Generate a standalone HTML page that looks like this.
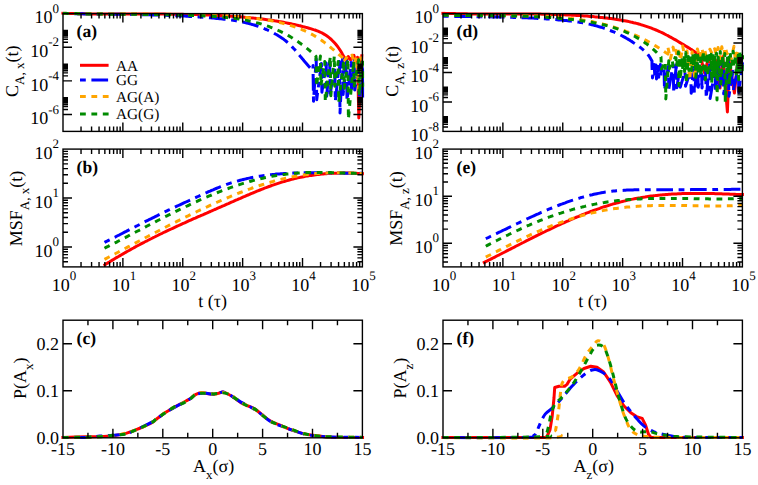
<!DOCTYPE html><html><head><meta charset="utf-8"><style>html,body{margin:0;padding:0;background:#fff;overflow:hidden;}svg{display:block}</style></head><body><svg width="758" height="485" viewBox="0 0 758 485" font-family='"Liberation Serif", serif' text-rendering="geometricPrecision">
<rect width="758" height="485" fill="#fff"/>
<g clip-path="url(#clipa)">
<path d="M62.9 13.2L64.4 13.3L65.9 13.3L67.4 13.4L68.9 13.4L70.4 13.5L71.9 13.5L73.4 13.5L74.9 13.6L76.4 13.6L77.9 13.7L79.4 13.7L80.9 13.7L82.4 13.8L83.9 13.8L85.4 13.8L86.9 13.8L88.4 13.9L89.9 13.9L91.4 13.9L92.9 13.9L94.4 13.9L95.9 13.9L97.4 14L98.9 14L100.4 14L101.9 14L103.4 14L104.9 14L106.4 14L107.9 14L109.4 14L110.9 14.1L112.4 14.1L113.9 14.1L115.4 14.1L116.9 14.1L118.4 14.1L119.9 14.1L121.4 14.1L122.9 14.1L124.4 14.1L125.9 14.1L127.4 14.1L128.9 14.1L130.4 14.1L131.9 14.1L133.4 14.1L134.9 14.1L136.4 14.1L137.9 14.1L139.4 14.1L140.9 14.1L142.4 14.1L143.9 14.1L145.4 14.1L146.9 14.1L148.4 14.1L149.9 14.1L151.4 14.1L152.9 14.1L154.4 14.1L155.9 14.1L157.4 14.1L158.9 14.1L160.4 14.1L161.9 14.1L163.4 14.1L164.9 14.1L166.4 14.2L167.9 14.2L169.4 14.2L170.9 14.2L172.4 14.2L173.9 14.2L175.4 14.2L176.9 14.3L178.4 14.3L179.9 14.3L181.4 14.3L182.9 14.3L184.4 14.4L185.9 14.4L187.4 14.4L188.9 14.5L190.4 14.5L191.9 14.5L193.4 14.6L194.9 14.6L196.4 14.6L197.9 14.7L199.4 14.7L200.9 14.8L202.5 14.8L204 14.9L205.5 14.9L207 15L208.5 15L210 15.1L211.5 15.2L213 15.2L214.5 15.3L216 15.4L217.5 15.4L219 15.5L220.5 15.6L222 15.7L223.5 15.7L225 15.8L226.5 15.9L228 16L229.5 16.1L231 16.2L232.5 16.3L234 16.4L235.5 16.5L237 16.6L238.5 16.7L240 16.8L241.5 17L243 17.1L244.5 17.2L246 17.4L247.5 17.5L249 17.6L250.5 17.8L252 17.9L253.5 18.1L255 18.2L256.5 18.4L258 18.6L259.5 18.7L261 18.9L262.5 19.1L264 19.3L265.5 19.5L267 19.7L268.5 19.9L270 20.1L271.5 20.3L273 20.5L274.5 20.8L276 21L277.5 21.2L279 21.5L280.5 21.7L282 22L283.5 22.3L285 22.6L286.5 22.9L288 23.2L289.5 23.5L291 23.8L292.5 24.1L294 24.4L295.5 24.8L297 25.1L298.5 25.5L300 25.8L301.5 26.2L303 26.6L304.5 27L306 27.4L307.5 27.8L309 28.2L310.5 28.6L312 29.1L313.5 29.6L315 30L316.5 30.6L318 31.2L319.5 31.8L321 32.5L322.5 33.2L324 34.1L325.5 35L327 36L328.5 37.1L330 38.3L331.5 39.7L333 41.2L334.5 42.8L336 44.5L337.5 46.4L339 48.5L340.5 50.8L342 53.3L343 55.4L346.4 60.3L348.3 56.5L350.6 60L353.9 55.3L355.2 60.5L357.5 57.3L358.8 118L361.8 55.7" fill="none" stroke="#ff0000" stroke-width="3" stroke-linecap="square" stroke-linejoin="round"/>
<path d="M62.9 13.5L64.4 13.5L65.9 13.5L67.4 13.6L68.9 13.6L70.4 13.6L71.9 13.7L73.4 13.7L75 13.7L76.5 13.7L78 13.8L79.5 13.8L81 13.8L82.5 13.8L84 13.9L85.5 13.9L87 13.9L88.5 13.9L90 14L91.5 14L93 14L94.5 14L96 14L97.6 14.1L99.1 14.1L100.6 14.1L102.1 14.1L103.6 14.1L105.1 14.1L106.6 14.2L108.1 14.2L109.6 14.2L111.1 14.2L112.6 14.2L114.1 14.2L115.6 14.3L117.1 14.3L118.6 14.3L120.2 14.3L121.7 14.3L123.2 14.4L124.7 14.4L126.2 14.4L127.7 14.4L129.2 14.4L130.7 14.5L132.2 14.5L133.7 14.5L135.2 14.5L136.7 14.6L138.2 14.6L139.7 14.6L141.2 14.6L142.8 14.7L144.3 14.7L145.8 14.7L147.3 14.8L148.8 14.8L150.3 14.8L151.8 14.9L153.3 14.9L154.8 15L156.3 15L157.8 15L159.3 15.1L160.8 15.1L162.3 15.2L163.8 15.2L165.4 15.3L166.9 15.3L168.4 15.4L169.9 15.4L171.4 15.5L172.9 15.6L174.4 15.6L175.9 15.7L177.4 15.8L178.9 15.8L180.4 15.9L181.9 16L183.4 16L184.9 16.1L186.4 16.2L187.9 16.3L189.5 16.4L191 16.5L192.5 16.5L194 16.6L195.5 16.7L197 16.8L198.5 16.9L200 17L201.5 17.1L203 17.3L204.5 17.4L206 17.5L207.5 17.6L209 17.7L210.5 17.8L212.1 18L213.6 18.1L215.1 18.2L216.6 18.4L218.1 18.5L219.6 18.7L221.1 18.8L222.6 19L224.1 19.2L225.6 19.3L227.1 19.5L228.6 19.7L230.1 19.9L231.6 20.1L233.1 20.3L234.7 20.6L236.2 20.8L237.7 21.1L239.2 21.4L240.7 21.7L242.2 22L243.7 22.3L245.2 22.6L246.7 23L248.2 23.3L249.7 23.7L251.2 24.2L252.7 24.6L254.2 25L255.7 25.5L257.3 26L258.8 26.5L260.3 27.1L261.8 27.6L263.3 28.2L264.8 28.9L266.3 29.5L267.8 30.2L269.3 30.9L270.8 31.6L272.3 32.4L273.8 33.1L275.3 34L276.8 34.8L278.3 35.7L279.9 36.7L281.4 37.7L282.9 38.7L284.4 39.9L285.9 41L287.4 42.3L288.9 43.6L290.4 45.1L291.9 46.6L293.4 48.2L294.9 49.8L296.4 51.6L297.9 53.4L299.4 55.2L300.9 57.1L302.5 58.9L304 60.8L305.5 62.6L307 64.3L308.5 66L310 67.6L311.5 69L313 70.3L313 65.6L313.5 101.3L316.2 58.7L316.7 99.7L321.4 63.4L321.9 92.3L326.2 62.9L326.7 96.1L329.7 61.4L330.2 93.5L334.8 66L335.3 101.3L339.5 61.6L340 113L342.6 58.2L343.1 94.5L346.5 61L347 100.5L351.1 62.5L351.6 91.3L354.2 60.6L354.7 89.9L358.7 66L359.2 97.4L362.3 65.1L362.8 99.2L362.5 65.3" fill="none" stroke="#0000ff" stroke-width="3" stroke-dasharray="5.8 5.6 16.7 5.6" stroke-linejoin="round"/>
<path d="M62.9 13.4L64.4 13.4L65.9 13.5L67.4 13.5L68.9 13.5L70.4 13.5L71.9 13.6L73.4 13.6L74.9 13.6L76.4 13.6L77.9 13.6L79.4 13.7L80.9 13.7L82.4 13.7L83.9 13.7L85.4 13.7L86.9 13.7L88.4 13.8L89.9 13.8L91.4 13.8L92.9 13.8L94.4 13.8L95.9 13.8L97.4 13.8L98.9 13.8L100.4 13.8L101.9 13.9L103.4 13.9L104.9 13.9L106.4 13.9L107.9 13.9L109.4 13.9L110.9 13.9L112.4 13.9L113.9 13.9L115.4 13.9L116.9 13.9L118.4 13.9L119.9 13.9L121.4 13.9L122.9 13.9L124.4 13.9L125.9 14L127.4 14L128.9 14L130.4 14L131.9 14L133.4 14L134.9 14L136.4 14L137.9 14L139.4 14L140.9 14L142.4 14L143.9 14L145.4 14L146.9 14.1L148.4 14.1L149.9 14.1L151.4 14.1L152.9 14.1L154.4 14.1L155.9 14.1L157.4 14.1L158.9 14.2L160.4 14.2L161.9 14.2L163.4 14.2L164.9 14.2L166.4 14.2L167.9 14.3L169.4 14.3L170.9 14.3L172.4 14.3L173.9 14.3L175.4 14.4L176.9 14.4L178.4 14.4L179.9 14.5L181.4 14.5L182.9 14.5L184.4 14.6L185.9 14.6L187.4 14.6L188.9 14.7L190.4 14.7L191.9 14.7L193.4 14.8L194.9 14.8L196.4 14.9L197.9 14.9L199.4 15L200.9 15L202.5 15.1L204 15.1L205.5 15.2L207 15.2L208.5 15.3L210 15.3L211.5 15.4L213 15.5L214.5 15.5L216 15.6L217.5 15.7L219 15.7L220.5 15.8L222 15.9L223.5 16L225 16L226.5 16.1L228 16.2L229.5 16.3L231 16.4L232.5 16.5L234 16.6L235.5 16.7L237 16.8L238.5 16.9L240 17L241.5 17.1L243 17.2L244.5 17.3L246 17.5L247.5 17.6L249 17.7L250.5 17.9L252 18L253.5 18.2L255 18.4L256.5 18.5L258 18.7L259.5 18.9L261 19.1L262.5 19.3L264 19.5L265.5 19.8L267 20L268.5 20.3L270 20.5L271.5 20.8L273 21.1L274.5 21.4L276 21.7L277.5 22.1L279 22.4L280.5 22.8L282 23.1L283.5 23.5L285 23.9L286.5 24.3L288 24.8L289.5 25.2L291 25.7L292.5 26.2L294 26.7L295.5 27.2L297 27.7L298.5 28.3L300 28.9L301.5 29.4L303 30.1L304.5 30.7L306 31.4L307.5 32.1L309 32.8L310.5 33.6L312 34.4L313.5 35.2L315 36.1L316.5 37L318 37.9L319.5 38.9L321 39.9L322.5 41L324 42.1L325.5 43.2L327 44.4L328.5 45.6L330 46.8L331.5 48.1L333 49.3L334.5 50.6L336 51.9L337.5 53.2L339 54.6L340.5 55.9L342 57.2L342 55L344.6 60.2L347.4 56.5L348.8 58.1L352.1 55L354 64L356.4 57.3L358.8 90L360.5 56.5" fill="none" stroke="#ffa500" stroke-width="3" stroke-dasharray="5.8 5.6" stroke-linejoin="round"/>
<path d="M62.9 13.2L64.4 13.3L65.9 13.3L67.4 13.4L68.9 13.4L70.4 13.5L71.9 13.5L73.4 13.6L75 13.6L76.5 13.6L78 13.7L79.5 13.7L81 13.8L82.5 13.8L84 13.8L85.5 13.9L87 13.9L88.5 13.9L90 13.9L91.5 14L93 14L94.5 14L96 14L97.6 14L99.1 14.1L100.6 14.1L102.1 14.1L103.6 14.1L105.1 14.1L106.6 14.1L108.1 14.2L109.6 14.2L111.1 14.2L112.6 14.2L114.1 14.2L115.6 14.2L117.1 14.2L118.6 14.2L120.1 14.2L121.7 14.2L123.2 14.3L124.7 14.3L126.2 14.3L127.7 14.3L129.2 14.3L130.7 14.3L132.2 14.3L133.7 14.3L135.2 14.3L136.7 14.3L138.2 14.3L139.7 14.4L141.2 14.4L142.7 14.4L144.3 14.4L145.8 14.4L147.3 14.4L148.8 14.4L150.3 14.4L151.8 14.5L153.3 14.5L154.8 14.5L156.3 14.5L157.8 14.5L159.3 14.5L160.8 14.6L162.3 14.6L163.8 14.6L165.3 14.6L166.9 14.7L168.4 14.7L169.9 14.7L171.4 14.8L172.9 14.8L174.4 14.8L175.9 14.9L177.4 14.9L178.9 14.9L180.4 15L181.9 15L183.4 15.1L184.9 15.1L186.4 15.2L187.9 15.2L189.4 15.3L191 15.3L192.5 15.4L194 15.4L195.5 15.5L197 15.6L198.5 15.6L200 15.7L201.5 15.8L203 15.8L204.5 15.9L206 16L207.5 16.1L209 16.2L210.5 16.3L212 16.3L213.6 16.4L215.1 16.5L216.6 16.7L218.1 16.8L219.6 16.9L221.1 17L222.6 17.1L224.1 17.3L225.6 17.4L227.1 17.6L228.6 17.7L230.1 17.9L231.6 18.1L233.1 18.2L234.6 18.4L236.2 18.6L237.7 18.9L239.2 19.1L240.7 19.3L242.2 19.6L243.7 19.9L245.2 20.1L246.7 20.4L248.2 20.7L249.7 21.1L251.2 21.4L252.7 21.7L254.2 22.1L255.7 22.5L257.2 22.9L258.8 23.3L260.3 23.7L261.8 24.2L263.3 24.7L264.8 25.2L266.3 25.7L267.8 26.2L269.3 26.7L270.8 27.3L272.3 27.9L273.8 28.5L275.3 29.2L276.8 29.8L278.3 30.5L279.8 31.2L281.3 31.9L282.9 32.7L284.4 33.5L285.9 34.3L287.4 35.1L288.9 35.9L290.4 36.8L291.9 37.7L293.4 38.7L294.9 39.6L296.4 40.6L297.9 41.6L299.4 42.7L300.9 43.8L302.4 44.9L303.9 46L305.5 47.2L307 48.4L308.5 49.6L310 50.9L311.5 52.2L313 53.5L314.5 54.9L316 56.3L316 56.7L316.5 86.3L320.4 56.1L320.9 85.5L324.8 61.4L325.3 101.6L330.3 56.6L330.8 95.8L334.3 56.2L334.8 86.3L338.2 61.5L338.7 102.2L343.8 60.6L344.3 88.3L347.9 59.4L348.4 119L353.7 61.2L354.2 85.9L358.7 59.7L359.2 95.1L362.4 58.3L362.9 86L362.5 61.1" fill="none" stroke="#008b00" stroke-width="3" stroke-dasharray="5.8 5.6" stroke-linejoin="round"/>
</g>
<g clip-path="url(#clipb)">
<path d="M104.9 264.8L106.4 263.8L107.9 262.9L109.4 262L110.9 261L112.4 260.1L113.9 259.2L115.4 258.3L116.9 257.4L118.5 256.5L120 255.6L121.5 254.7L123 253.9L124.5 253L126 252.1L127.5 251.3L129 250.5L130.5 249.6L132 248.8L133.5 248L135 247.1L136.5 246.3L138 245.5L139.5 244.7L141 243.9L142.5 243.1L144.1 242.3L145.6 241.5L147.1 240.8L148.6 240L150.1 239.2L151.6 238.5L153.1 237.7L154.6 237L156.1 236.2L157.6 235.5L159.1 234.7L160.6 234L162.1 233.3L163.6 232.5L165.1 231.8L166.6 231.1L168.1 230.4L169.7 229.7L171.2 229L172.7 228.3L174.2 227.6L175.7 226.9L177.2 226.2L178.7 225.5L180.2 224.8L181.7 224.1L183.2 223.4L184.7 222.8L186.2 222.1L187.7 221.4L189.2 220.7L190.7 220.1L192.2 219.4L193.7 218.7L195.3 218.1L196.8 217.4L198.3 216.7L199.8 216.1L201.3 215.4L202.8 214.8L204.3 214.1L205.8 213.5L207.3 212.8L208.8 212.1L210.3 211.5L211.8 210.8L213.3 210.2L214.8 209.5L216.3 208.9L217.8 208.2L219.3 207.5L220.9 206.9L222.4 206.2L223.9 205.6L225.4 204.9L226.9 204.2L228.4 203.6L229.9 202.9L231.4 202.2L232.9 201.6L234.4 200.9L235.9 200.2L237.4 199.6L238.9 198.9L240.4 198.3L241.9 197.6L243.4 196.9L244.9 196.3L246.4 195.6L248 195L249.5 194.4L251 193.7L252.5 193.1L254 192.5L255.5 191.8L257 191.2L258.5 190.6L260 190L261.5 189.4L263 188.8L264.5 188.2L266 187.7L267.5 187.1L269 186.5L270.5 186L272 185.4L273.6 184.9L275.1 184.4L276.6 183.9L278.1 183.4L279.6 182.9L281.1 182.4L282.6 181.9L284.1 181.5L285.6 181L287.1 180.6L288.6 180.2L290.1 179.8L291.6 179.4L293.1 179L294.6 178.6L296.1 178.3L297.6 177.9L299.2 177.6L300.7 177.3L302.2 177L303.7 176.7L305.2 176.4L306.7 176.1L308.2 175.9L309.7 175.6L311.2 175.4L312.7 175.2L314.2 175L315.7 174.8L317.2 174.6L318.7 174.4L320.2 174.3L321.7 174.1L323.2 174L324.8 173.8L326.3 173.7L327.8 173.6L329.3 173.5L330.8 173.4L332.3 173.3L333.8 173.3L335.3 173.2L336.8 173.2L338.3 173.1L339.8 173.1L341.3 173.1L342.8 173.1L344.3 173.1L345.8 173.1L347.3 173.1L348.8 173.1L350.4 173.1L351.9 173.2L353.4 173.2L354.9 173.3L356.4 173.3L357.9 173.4L359.4 173.5L360.9 173.6L362.4 173.7" fill="none" stroke="#ff0000" stroke-width="3" stroke-linecap="square" stroke-linejoin="round"/>
<path d="M104.5 242.4L106 241.6L107.5 240.9L109 240.1L110.5 239.4L112 238.6L113.5 237.8L115.1 237.1L116.6 236.3L118.1 235.5L119.6 234.8L121.1 234L122.6 233.2L124.1 232.4L125.6 231.7L127.1 230.9L128.6 230.1L130.1 229.3L131.6 228.6L133.2 227.8L134.7 227L136.2 226.2L137.7 225.5L139.2 224.7L140.7 223.9L142.2 223.1L143.7 222.4L145.2 221.6L146.7 220.8L148.2 220.1L149.7 219.3L151.3 218.6L152.8 217.8L154.3 217.1L155.8 216.3L157.3 215.6L158.8 214.8L160.3 214.1L161.8 213.3L163.3 212.6L164.8 211.9L166.3 211.2L167.8 210.4L169.4 209.7L170.9 209L172.4 208.3L173.9 207.6L175.4 206.9L176.9 206.2L178.4 205.5L179.9 204.8L181.4 204.1L182.9 203.4L184.4 202.7L185.9 202L187.5 201.3L189 200.7L190.5 200L192 199.3L193.5 198.6L195 197.9L196.5 197.2L198 196.5L199.5 195.8L201 195.1L202.5 194.4L204 193.8L205.5 193.1L207.1 192.4L208.6 191.7L210.1 191.1L211.6 190.4L213.1 189.8L214.6 189.1L216.1 188.5L217.6 187.9L219.1 187.3L220.6 186.7L222.1 186.1L223.6 185.5L225.2 185L226.7 184.4L228.2 183.9L229.7 183.4L231.2 182.9L232.7 182.4L234.2 182L235.7 181.5L237.2 181.1L238.7 180.7L240.2 180.3L241.7 179.9L243.3 179.5L244.8 179.1L246.3 178.8L247.8 178.4L249.3 178.1L250.8 177.8L252.3 177.5L253.8 177.2L255.3 176.9L256.8 176.7L258.3 176.4L259.8 176.2L261.4 175.9L262.9 175.7L264.4 175.5L265.9 175.3L267.4 175.1L268.9 174.9L270.4 174.7L271.9 174.6L273.4 174.4L274.9 174.3L276.4 174.1L277.9 174L279.4 173.9L281 173.8L282.5 173.7L284 173.6L285.5 173.5L287 173.4L288.5 173.3L290 173.2L291.5 173.2L293 173.1L294.5 173.1L296 173L297.5 173L299.1 172.9L300.6 172.9L302.1 172.9L303.6 172.8L305.1 172.8L306.6 172.8L308.1 172.8L309.6 172.8L311.1 172.8L312.6 172.8L314.1 172.8L315.6 172.8L317.2 172.8L318.7 172.8L320.2 172.8L321.7 172.9L323.2 172.9L324.7 172.9L326.2 172.9L327.7 172.9L329.2 173L330.7 173L332.2 173L333.7 173L335.3 173L336.8 173.1L338.3 173.1L339.8 173.1L341.3 173.1L342.8 173.1L344.3 173.2L345.8 173.2L347.3 173.2L348.8 173.2L350.3 173.2L351.8 173.2L353.4 173.2L354.9 173.2L356.4 173.2L357.9 173.2L359.4 173.2L360.9 173.2L362.4 173.2" fill="none" stroke="#0000ff" stroke-width="3" stroke-dasharray="5.8 5.6 16.7 5.6" stroke-linejoin="round"/>
<path d="M104.5 259.4L106 258.6L107.5 257.8L109 257L110.5 256.2L112 255.4L113.5 254.6L115.1 253.8L116.6 253L118.1 252.2L119.6 251.4L121.1 250.6L122.6 249.8L124.1 249L125.6 248.2L127.1 247.4L128.6 246.6L130.1 245.8L131.6 245L133.2 244.2L134.7 243.4L136.2 242.6L137.7 241.8L139.2 241L140.7 240.2L142.2 239.4L143.7 238.6L145.2 237.8L146.7 237L148.2 236.2L149.7 235.4L151.3 234.6L152.8 233.9L154.3 233.1L155.8 232.3L157.3 231.5L158.8 230.7L160.3 229.9L161.8 229.1L163.3 228.3L164.8 227.6L166.3 226.8L167.8 226L169.4 225.2L170.9 224.5L172.4 223.7L173.9 222.9L175.4 222.2L176.9 221.4L178.4 220.7L179.9 219.9L181.4 219.1L182.9 218.4L184.4 217.6L185.9 216.9L187.5 216.2L189 215.4L190.5 214.7L192 213.9L193.5 213.2L195 212.5L196.5 211.8L198 211L199.5 210.3L201 209.6L202.5 208.9L204 208.2L205.5 207.5L207.1 206.8L208.6 206.1L210.1 205.4L211.6 204.7L213.1 204L214.6 203.4L216.1 202.7L217.6 202L219.1 201.3L220.6 200.7L222.1 200L223.6 199.4L225.2 198.7L226.7 198.1L228.2 197.5L229.7 196.8L231.2 196.2L232.7 195.6L234.2 195L235.7 194.3L237.2 193.7L238.7 193.1L240.2 192.5L241.7 192L243.3 191.4L244.8 190.8L246.3 190.2L247.8 189.7L249.3 189.1L250.8 188.6L252.3 188L253.8 187.5L255.3 187L256.8 186.5L258.3 186L259.8 185.5L261.4 185L262.9 184.5L264.4 184L265.9 183.5L267.4 183.1L268.9 182.6L270.4 182.2L271.9 181.8L273.4 181.3L274.9 180.9L276.4 180.5L277.9 180.1L279.4 179.7L281 179.4L282.5 179L284 178.6L285.5 178.3L287 178L288.5 177.6L290 177.3L291.5 177L293 176.7L294.5 176.4L296 176.2L297.5 175.9L299.1 175.6L300.6 175.4L302.1 175.2L303.6 175L305.1 174.8L306.6 174.6L308.1 174.4L309.6 174.2L311.1 174L312.6 173.9L314.1 173.7L315.6 173.6L317.2 173.5L318.7 173.4L320.2 173.3L321.7 173.2L323.2 173.1L324.7 173L326.2 173L327.7 172.9L329.2 172.8L330.7 172.8L332.2 172.8L333.7 172.7L335.3 172.7L336.8 172.7L338.3 172.7L339.8 172.7L341.3 172.7L342.8 172.8L344.3 172.8L345.8 172.8L347.3 172.9L348.8 172.9L350.3 173L351.8 173.1L353.4 173.1L354.9 173.2L356.4 173.3L357.9 173.4L359.4 173.5L360.9 173.6L362.4 173.7" fill="none" stroke="#ffa500" stroke-width="3" stroke-dasharray="5.8 5.6" stroke-linejoin="round"/>
<path d="M104.5 248.2L106 247.4L107.5 246.7L109 245.9L110.5 245.1L112 244.4L113.5 243.6L115.1 242.8L116.6 242.1L118.1 241.3L119.6 240.5L121.1 239.7L122.6 238.9L124.1 238.1L125.6 237.4L127.1 236.6L128.6 235.8L130.1 235L131.6 234.2L133.2 233.4L134.7 232.6L136.2 231.8L137.7 231L139.2 230.3L140.7 229.5L142.2 228.7L143.7 227.9L145.2 227.1L146.7 226.3L148.2 225.5L149.7 224.7L151.3 223.9L152.8 223.2L154.3 222.4L155.8 221.6L157.3 220.8L158.8 220L160.3 219.3L161.8 218.5L163.3 217.7L164.8 216.9L166.3 216.2L167.8 215.4L169.4 214.7L170.9 213.9L172.4 213.1L173.9 212.4L175.4 211.6L176.9 210.9L178.4 210.1L179.9 209.4L181.4 208.7L182.9 207.9L184.4 207.2L185.9 206.5L187.5 205.8L189 205.1L190.5 204.3L192 203.6L193.5 202.9L195 202.2L196.5 201.6L198 200.9L199.5 200.2L201 199.5L202.5 198.8L204 198.2L205.5 197.5L207.1 196.9L208.6 196.2L210.1 195.6L211.6 195L213.1 194.3L214.6 193.7L216.1 193.1L217.6 192.5L219.1 191.9L220.6 191.3L222.1 190.7L223.6 190.2L225.2 189.6L226.7 189L228.2 188.5L229.7 187.9L231.2 187.4L232.7 186.9L234.2 186.4L235.7 185.9L237.2 185.4L238.7 184.9L240.2 184.4L241.7 183.9L243.3 183.4L244.8 183L246.3 182.5L247.8 182.1L249.3 181.6L250.8 181.2L252.3 180.8L253.8 180.4L255.3 180L256.8 179.6L258.3 179.3L259.8 178.9L261.4 178.5L262.9 178.2L264.4 177.8L265.9 177.5L267.4 177.2L268.9 176.9L270.4 176.6L271.9 176.3L273.4 176L274.9 175.8L276.4 175.5L277.9 175.3L279.4 175L281 174.8L282.5 174.6L284 174.4L285.5 174.2L287 174L288.5 173.9L290 173.7L291.5 173.6L293 173.4L294.5 173.3L296 173.2L297.5 173.1L299.1 173L300.6 172.9L302.1 172.8L303.6 172.7L305.1 172.7L306.6 172.6L308.1 172.6L309.6 172.5L311.1 172.5L312.6 172.5L314.1 172.5L315.6 172.5L317.2 172.5L318.7 172.5L320.2 172.5L321.7 172.5L323.2 172.5L324.7 172.5L326.2 172.5L327.7 172.6L329.2 172.6L330.7 172.6L332.2 172.7L333.7 172.7L335.3 172.7L336.8 172.8L338.3 172.8L339.8 172.9L341.3 172.9L342.8 173L344.3 173L345.8 173.1L347.3 173.1L348.8 173.2L350.3 173.2L351.8 173.2L353.4 173.3L354.9 173.3L356.4 173.4L357.9 173.4L359.4 173.5L360.9 173.5L362.4 173.5" fill="none" stroke="#008b00" stroke-width="3" stroke-dasharray="5.8 5.6" stroke-linejoin="round"/>
</g>
<g clip-path="url(#clipc)">
<path d="M62.9 437.4C66.8 437.3 80.3 436.9 86.4 436.7C92.5 436.6 95.2 436.7 99.6 436.6C104 436.4 108.4 436.2 112.8 435.7C117.2 435.2 121.6 434.6 126 433.4C130.4 432.2 134.8 430.3 139.2 428.5C143.6 426.6 149.4 424 152.3 422.4C155.2 420.8 154.7 420.5 156.9 418.8C159.1 417.2 162.6 414.5 165.4 412.6C168.2 410.7 171.4 408.9 174 407.4C176.6 405.9 178.9 404.9 180.9 403.8C182.9 402.7 184.3 402 186 401C187.7 400 189.6 399 191.2 397.9C192.8 396.8 193.8 395.6 195.5 394.7C197.2 393.8 199.7 392.8 201.5 392.6C203.3 392.3 204.6 393.2 206.6 393.4C208.6 393.7 211.5 394 213.5 394C215.5 393.9 217 393.5 218.6 393.2C220.2 392.8 221.2 391.7 222.9 391.9C224.6 392.2 227.1 393.5 228.9 394.5C230.8 395.5 232 396.3 234 397.7C236 399 238.6 401.2 240.9 402.6C243.2 404 245.5 404.8 247.8 405.8C250.1 406.8 252.3 407.4 254.6 408.8C256.9 410.2 258.9 412.2 261.5 414.2C264.1 416.2 267 419 270.1 420.8C273.2 422.6 276.4 423.7 280 425.2C283.6 426.7 287.3 428.3 291.4 429.8C295.5 431.2 300.2 432.9 304.6 433.9C309 434.9 313.4 435.2 317.8 435.7C322.2 436.3 323.5 436.9 331 437.2C338.5 437.4 357.3 437.4 362.6 437.4" fill="none" stroke="#ff0000" stroke-width="3" stroke-linecap="square" stroke-linejoin="round"/>
<path d="M62.9 437.4C66.8 437.4 80.3 437.6 86.4 437.4C92.5 437.2 95.2 436.5 99.6 436.1C104 435.8 108.4 435.6 112.8 435.2C117.2 434.8 121.6 434.9 126 433.8C130.4 432.7 134.8 430.4 139.2 428.4C143.6 426.5 149.4 423.5 152.3 421.9C155.2 420.3 154.7 420.3 156.9 418.7C159.1 417.2 162.6 414.3 165.4 412.5C168.2 410.6 171.4 409.2 174 407.7C176.6 406.3 178.9 404.8 180.9 403.8C182.9 402.8 184.3 402.8 186 401.8C187.7 400.8 189.6 399 191.2 397.9C192.8 396.7 193.8 395.4 195.5 394.7C197.2 393.9 199.7 393.5 201.5 393.2C203.3 393 204.6 393.1 206.6 393.3C208.6 393.6 211.5 394.5 213.5 394.5C215.5 394.6 217 394 218.6 393.6C220.2 393.1 221.2 391.8 222.9 391.9C224.6 392.1 227.1 393.5 228.9 394.4C230.8 395.3 232 396.3 234 397.6C236 398.9 238.6 400.8 240.9 402.1C243.2 403.5 245.5 404.2 247.8 405.5C250.1 406.7 252.3 408 254.6 409.5C256.9 411 258.9 412.4 261.5 414.4C264.1 416.3 267 419.3 270.1 421.2C273.2 423 276.4 424.3 280 425.7C283.6 427.2 287.3 428.4 291.4 429.8C295.5 431.2 300.2 433 304.6 434.1C309 435.1 313.4 435.7 317.8 436.2C322.2 436.6 323.5 436.8 331 437C338.5 437.2 357.3 437.3 362.6 437.4" fill="none" stroke="#0000ff" stroke-width="3" stroke-dasharray="5.8 5.6 16.7 5.6" stroke-linejoin="round"/>
<path d="M62.9 437.4C66.8 437.4 80.3 437.4 86.4 437.3C92.5 437.2 95.2 437 99.6 436.8C104 436.5 108.4 436.5 112.8 435.9C117.2 435.3 121.6 434.3 126 433.1C130.4 431.9 134.8 430.6 139.2 428.8C143.6 427 149.4 423.8 152.3 422.1C155.2 420.4 154.7 420.3 156.9 418.6C159.1 417 162.6 414.2 165.4 412.3C168.2 410.4 171.4 408.5 174 407.2C176.6 405.8 178.9 405 180.9 404C182.9 403 184.3 402.2 186 401.2C187.7 400.2 189.6 399.1 191.2 398C192.8 396.8 193.8 395.1 195.5 394.2C197.2 393.3 199.7 392.7 201.5 392.6C203.3 392.4 204.6 393.1 206.6 393.4C208.6 393.6 211.5 394.1 213.5 394.1C215.5 394.1 217 393.7 218.6 393.4C220.2 393.1 221.2 392.4 222.9 392.5C224.6 392.6 227.1 393.2 228.9 394C230.8 394.8 232 395.7 234 397.1C236 398.6 238.6 401.1 240.9 402.5C243.2 404 245.5 404.6 247.8 405.8C250.1 406.9 252.3 407.9 254.6 409.3C256.9 410.8 258.9 412.4 261.5 414.4C264.1 416.4 267 419.3 270.1 421.2C273.2 423 276.4 424 280 425.4C283.6 426.8 287.3 428.2 291.4 429.6C295.5 431 300.2 432.8 304.6 433.9C309 435 313.4 435.5 317.8 436.1C322.2 436.6 323.5 436.8 331 437C338.5 437.3 357.3 437.3 362.6 437.4" fill="none" stroke="#ffa500" stroke-width="3" stroke-dasharray="5.8 5.6" stroke-linejoin="round"/>
<path d="M62.9 437.4C66.8 437.4 80.3 437.3 86.4 437.2C92.5 437 95.2 437 99.6 436.7C104 436.4 108.4 435.8 112.8 435.3C117.2 434.9 121.6 434.9 126 433.8C130.4 432.7 134.8 430.4 139.2 428.5C143.6 426.5 149.4 424 152.3 422.3C155.2 420.6 154.7 419.9 156.9 418.3C159.1 416.7 162.6 414.7 165.4 412.8C168.2 410.9 171.4 408.6 174 407.1C176.6 405.7 178.9 405.1 180.9 404.2C182.9 403.2 184.3 402.6 186 401.6C187.7 400.6 189.6 399.4 191.2 398.2C192.8 397 193.8 395.4 195.5 394.6C197.2 393.7 199.7 393.4 201.5 393.2C203.3 393 204.6 393.5 206.6 393.6C208.6 393.7 211.5 393.9 213.5 393.9C215.5 393.9 217 393.6 218.6 393.4C220.2 393.2 221.2 392.5 222.9 392.7C224.6 392.8 227.1 393.5 228.9 394.3C230.8 395.1 232 396.1 234 397.5C236 398.8 238.6 400.7 240.9 402.1C243.2 403.6 245.5 404.9 247.8 406.1C250.1 407.2 252.3 407.5 254.6 408.9C256.9 410.3 258.9 412.5 261.5 414.5C264.1 416.5 267 419.3 270.1 421.1C273.2 422.9 276.4 423.9 280 425.2C283.6 426.6 287.3 427.8 291.4 429.3C295.5 430.7 300.2 432.7 304.6 433.8C309 435 313.4 435.5 317.8 436C322.2 436.5 323.5 436.6 331 436.8C338.5 437 357.3 437.3 362.6 437.4" fill="none" stroke="#008b00" stroke-width="3" stroke-dasharray="5.8 5.6" stroke-linejoin="round"/>
</g>
<g clip-path="url(#clipd)">
<path d="M442.9 13.3L444.4 13.3L445.9 13.4L447.4 13.4L448.9 13.5L450.4 13.5L451.9 13.6L453.4 13.6L454.9 13.6L456.4 13.7L457.9 13.7L459.4 13.7L460.9 13.8L462.4 13.8L463.9 13.8L465.4 13.8L466.9 13.8L468.4 13.9L469.9 13.9L471.4 13.9L472.9 13.9L474.4 13.9L475.9 13.9L477.4 13.9L478.9 13.9L480.4 13.9L481.9 13.9L483.4 14L484.9 14L486.4 14L487.9 14L489.4 14L490.9 14L492.4 14L493.9 14L495.4 14L496.9 14L498.4 14L499.9 14L501.4 14L502.9 14L504.4 14L505.9 14L507.4 14L508.9 14L510.4 14L511.9 14L513.4 14L514.9 14L516.4 14L517.9 14L519.4 14L520.9 14L522.4 14L523.9 14L525.4 14L526.9 14L528.4 14L529.9 14L531.4 14L532.9 14L534.4 14.1L535.9 14.1L537.4 14.1L538.9 14.1L540.4 14.1L541.9 14.2L543.4 14.2L544.9 14.2L546.4 14.2L547.9 14.3L549.4 14.3L550.9 14.4L552.4 14.4L553.9 14.4L555.4 14.5L556.9 14.5L558.4 14.6L559.9 14.6L561.4 14.7L562.9 14.7L564.4 14.8L565.9 14.9L567.4 14.9L568.9 15L570.4 15.1L572 15.2L573.5 15.2L575 15.3L576.5 15.4L578 15.5L579.5 15.6L581 15.7L582.5 15.8L584 15.9L585.5 16L587 16.1L588.5 16.3L590 16.4L591.5 16.5L593 16.6L594.5 16.8L596 16.9L597.5 17.1L599 17.2L600.5 17.4L602 17.5L603.5 17.7L605 17.9L606.5 18L608 18.2L609.5 18.4L611 18.6L612.5 18.8L614 19L615.5 19.2L617 19.5L618.5 19.7L620 19.9L621.5 20.2L623 20.5L624.5 20.7L626 21L627.5 21.3L629 21.6L630.5 22L632 22.3L633.5 22.7L635 23L636.5 23.4L638 23.8L639.5 24.2L641 24.7L642.5 25.1L644 25.6L645.5 26.1L647 26.6L648.5 27.1L650 27.6L651.5 28.2L653 28.8L654.5 29.4L656 30L657.5 30.6L659 31.3L660.5 32L662 32.7L663.5 33.4L665 34.2L666.5 35L668 35.7L669.5 36.6L671 37.4L672.5 38.2L674 39.1L675.5 39.9L677 40.8L678.5 41.7L680 42.6L681.5 43.5L683 44.4L684.5 45.3L686 46.2L687.5 47.1L689 48L690.5 49L692 49.9L693.5 50.9L695 51.9L696.5 52.9L698 54L699.5 55.1L701 56.2L701 58.7L704.7 73.1L708.1 59L711.9 64.2L715.4 59.8L720 88L722.8 56.5L727.4 112L729.3 61.9L734.4 93L738.3 56.9L740.1 68.3L742 57.1" fill="none" stroke="#ff0000" stroke-width="3" stroke-linecap="square" stroke-linejoin="round"/>
<path d="M442.9 16.1L444.4 16.2L445.9 16.2L447.4 16.2L448.9 16.3L450.4 16.3L451.9 16.3L453.4 16.3L454.9 16.4L456.4 16.4L457.9 16.4L459.4 16.4L461 16.4L462.5 16.5L464 16.5L465.5 16.5L467 16.5L468.5 16.5L470 16.6L471.5 16.6L473 16.6L474.5 16.6L476 16.6L477.5 16.7L479 16.7L480.5 16.7L482 16.7L483.5 16.7L485 16.8L486.5 16.8L488 16.8L489.5 16.8L491 16.8L492.5 16.9L494 16.9L495.6 16.9L497.1 17L498.6 17L500.1 17L501.6 17L503.1 17.1L504.6 17.1L506.1 17.1L507.6 17.2L509.1 17.2L510.6 17.3L512.1 17.3L513.6 17.4L515.1 17.4L516.6 17.4L518.1 17.5L519.6 17.5L521.1 17.6L522.6 17.7L524.1 17.7L525.6 17.8L527.1 17.8L528.6 17.9L530.2 18L531.7 18L533.2 18.1L534.7 18.2L536.2 18.3L537.7 18.4L539.2 18.4L540.7 18.5L542.2 18.6L543.7 18.7L545.2 18.8L546.7 18.9L548.2 19L549.7 19.1L551.2 19.2L552.7 19.4L554.2 19.5L555.7 19.6L557.2 19.7L558.7 19.9L560.2 20L561.7 20.1L563.2 20.3L564.7 20.4L566.3 20.6L567.8 20.8L569.3 20.9L570.8 21.1L572.3 21.3L573.8 21.5L575.3 21.7L576.8 21.9L578.3 22.1L579.8 22.4L581.3 22.6L582.8 22.9L584.3 23.2L585.8 23.5L587.3 23.8L588.8 24.1L590.3 24.4L591.8 24.8L593.3 25.1L594.8 25.5L596.3 25.9L597.8 26.3L599.3 26.8L600.9 27.2L602.4 27.7L603.9 28.2L605.4 28.7L606.9 29.2L608.4 29.8L609.9 30.4L611.4 31L612.9 31.6L614.4 32.2L615.9 32.9L617.4 33.6L618.9 34.3L620.4 35L621.9 35.8L623.4 36.6L624.9 37.4L626.4 38.3L627.9 39.1L629.4 40L630.9 41L632.4 41.9L633.9 42.9L635.5 43.9L637 45L638.5 46.1L640 47.2L641.5 48.4L643 49.6L644.5 50.9L646 52.3L647.5 54L649 56L650.5 58.4L652 61.1L652 65.9L652.5 77.9L654.2 64.6L654.7 74.1L656 65.1L656.5 78.9L658.2 66.4L658.7 77.3L660.4 64.6L660.9 76.6L662 67.6L664 65.6L664.5 90.2L668.3 66.5L668.8 89L673.2 64.6L673.7 92.8L676.3 65L676.8 87.7L679.7 69.4L680.2 87.3L685 71.6L685.5 86.3L690.7 70.1L691.2 93.3L693.8 66.6L694.3 92.7L697.7 64.2L698.2 87.3L701.5 69.9L702 87.9L705.7 68.4L706.2 98.1L709.6 62.4L710.1 98.6L715.1 69.9L715.6 90.9L718.8 63.5L719.3 87.2L723.2 62.7L723.7 93.9L728.4 62.1L728.9 96.3L732.9 71.2L733.4 90.1L738.3 66.5L738.8 92.4L742.5 62.2" fill="none" stroke="#0000ff" stroke-width="3" stroke-dasharray="5.8 5.6 16.7 5.6" stroke-linejoin="round"/>
<path d="M442.9 14.6L444.4 14.7L445.9 14.8L447.4 14.9L448.9 15L450.4 15L451.9 15.1L453.4 15.1L454.9 15.2L456.4 15.3L457.9 15.3L459.4 15.3L460.9 15.4L462.4 15.4L463.9 15.5L465.4 15.5L466.9 15.5L468.4 15.5L469.9 15.6L471.4 15.6L472.9 15.6L474.4 15.6L475.9 15.6L477.4 15.6L478.9 15.6L480.4 15.7L481.9 15.7L483.4 15.7L484.9 15.7L486.4 15.7L487.9 15.7L489.4 15.7L490.9 15.7L492.4 15.7L493.9 15.7L495.4 15.7L496.9 15.7L498.4 15.7L499.9 15.7L501.4 15.7L502.9 15.7L504.4 15.7L505.9 15.7L507.4 15.7L508.9 15.7L510.4 15.7L511.9 15.7L513.4 15.7L514.9 15.7L516.4 15.7L517.9 15.7L519.4 15.7L520.9 15.8L522.4 15.8L523.9 15.8L525.4 15.8L526.9 15.8L528.4 15.9L529.9 15.9L531.4 15.9L532.9 16L534.4 16L535.9 16.1L537.4 16.1L538.9 16.2L540.4 16.2L541.9 16.3L543.4 16.3L544.9 16.4L546.4 16.5L547.9 16.6L549.4 16.7L550.9 16.7L552.4 16.8L553.9 16.9L555.4 17L556.9 17.1L558.4 17.3L559.9 17.4L561.4 17.5L562.9 17.6L564.4 17.8L565.9 17.9L567.4 18.1L568.9 18.2L570.4 18.4L571.9 18.6L573.4 18.7L574.9 18.9L576.4 19.1L577.9 19.3L579.4 19.5L580.9 19.7L582.4 20L583.9 20.2L585.4 20.5L586.9 20.7L588.4 21L589.9 21.2L591.4 21.5L592.9 21.8L594.4 22.1L595.9 22.4L597.4 22.8L598.9 23.1L600.4 23.4L601.9 23.8L603.4 24.2L604.9 24.5L606.4 24.9L607.9 25.3L609.4 25.8L610.9 26.2L612.4 26.6L613.9 27.1L615.4 27.6L616.9 28.1L618.4 28.6L619.9 29.1L621.4 29.6L622.9 30.1L624.4 30.7L625.9 31.3L627.4 31.8L628.9 32.4L630.4 33.1L631.9 33.7L633.4 34.3L634.9 35L636.4 35.7L637.9 36.4L639.4 37.1L640.9 37.8L642.4 38.6L643.9 39.3L645.4 40.1L646.9 40.9L648.4 41.7L649.9 42.6L651.4 43.4L652.9 44.3L654.4 45.2L655.9 46.1L657.4 47L658.9 48L660.4 49L661.9 50L663.4 51L664.9 52L666.4 53.1L667.9 54.1L668 47.6L670.4 59.2L673.1 47.1L674.5 54.3L676 50.4L677.2 57.8L678.7 47.8L680.5 60.5L682.7 46.1L684.3 54.3L687 50.9L689.7 80L692.1 51.7L694.7 78L697.4 48.9L699.9 58.1L701.8 48.2L703.7 55.8L704.9 50.9L707.5 61.9L709.9 49.3L712.4 54.2L714.7 48.7L716.1 54.8L718.1 47.5L720 58.4L721.8 46.8L723.8 55.1L725.3 47.2L727 53.7L729.3 51.7L731.1 59.5L734 46.3L735.3 60.3L737.9 49.8L739.2 56.7L742 51.3" fill="none" stroke="#ffa500" stroke-width="3" stroke-dasharray="5.8 5.6" stroke-linejoin="round"/>
<path d="M442.9 15.3L444.4 15.3L445.9 15.3L447.4 15.3L448.9 15.4L450.4 15.4L451.9 15.4L453.4 15.4L454.9 15.4L456.4 15.4L457.9 15.4L459.4 15.4L460.9 15.4L462.5 15.4L464 15.4L465.5 15.4L467 15.5L468.5 15.5L470 15.5L471.5 15.5L473 15.5L474.5 15.5L476 15.5L477.5 15.5L479 15.5L480.5 15.5L482 15.5L483.5 15.5L485 15.5L486.5 15.5L488 15.6L489.5 15.6L491 15.6L492.5 15.6L494 15.6L495.5 15.6L497 15.6L498.6 15.7L500.1 15.7L501.6 15.7L503.1 15.7L504.6 15.7L506.1 15.8L507.6 15.8L509.1 15.8L510.6 15.9L512.1 15.9L513.6 15.9L515.1 16L516.6 16L518.1 16L519.6 16.1L521.1 16.1L522.6 16.2L524.1 16.2L525.6 16.3L527.1 16.3L528.6 16.4L530.1 16.5L531.6 16.5L533.1 16.6L534.7 16.7L536.2 16.7L537.7 16.8L539.2 16.9L540.7 17L542.2 17.1L543.7 17.1L545.2 17.2L546.7 17.3L548.2 17.4L549.7 17.5L551.2 17.6L552.7 17.8L554.2 17.9L555.7 18L557.2 18.1L558.7 18.3L560.2 18.4L561.7 18.5L563.2 18.7L564.7 18.8L566.2 19L567.7 19.1L569.2 19.3L570.8 19.4L572.3 19.6L573.8 19.8L575.3 20L576.8 20.1L578.3 20.3L579.8 20.5L581.3 20.7L582.8 20.9L584.3 21.1L585.8 21.4L587.3 21.6L588.8 21.8L590.3 22.1L591.8 22.3L593.3 22.6L594.8 22.9L596.3 23.2L597.8 23.5L599.3 23.8L600.8 24.1L602.3 24.5L603.8 24.8L605.3 25.2L606.9 25.6L608.4 26L609.9 26.4L611.4 26.9L612.9 27.3L614.4 27.8L615.9 28.3L617.4 28.8L618.9 29.3L620.4 29.9L621.9 30.5L623.4 31.1L624.9 31.7L626.4 32.3L627.9 33L629.4 33.7L630.9 34.4L632.4 35.2L633.9 35.9L635.4 36.7L636.9 37.6L638.4 38.5L639.9 39.4L641.4 40.3L643 41.3L644.5 42.4L646 43.4L647.5 44.5L649 45.7L650.5 46.9L652 48.2L653.5 49.5L655 50.9L656.5 52.3L658 53.8L659.5 55.3L661 56.9L661 57.5L661.5 69L665.3 61.7L665.8 99L668.8 60.7L669.3 68.6L672.4 60.4L672.9 66L675 57.6L676 57.8L676.5 66.2L678.4 52.1L678.9 85.7L679.7 57.2L680.2 79.6L682.3 58L682.8 70.8L684.1 56L684.6 71.6L685.8 52.6L686.3 83.2L688.4 56.6L688.9 70.5L691.1 54.6L691.6 70.6L693.1 53.9L693.6 67.6L695.2 53.5L695.7 77.4L697.9 55.5L698.4 74.1L700.5 58L701 75.8L703.3 51.1L703.8 68.8L704.8 57.6L705.3 79.8L707.2 53L707.7 75.9L709.8 51.7L710.3 68.3L711.2 54.3L711.7 82.8L713.3 53.8L713.8 76L714.9 57.6L715.4 73.1L716.5 53.2L717 100L718.3 57.3L718.8 72.7L720.3 51.5L720.8 84.1L722.8 54.3L723.3 68.3L724.8 53.6L725.3 102L727.5 56.2L728 71.7L728.9 57.3L729.4 84.9L730.4 54.5L730.9 75.6L733.2 51.3L733.7 67.2L735.7 55L736.2 75.2L738.2 55.2L738.7 79.8L739.9 51.6L740.4 66.2L741.7 55.5L742.2 73.6L742.5 55.3" fill="none" stroke="#008b00" stroke-width="3" stroke-dasharray="5.8 5.6" stroke-linejoin="round"/>
</g>
<g clip-path="url(#clipe)">
<path d="M484.3 262.4L485.8 261.6L487.3 260.9L488.8 260.1L490.3 259.4L491.8 258.6L493.3 257.8L494.8 257.1L496.3 256.3L497.8 255.5L499.3 254.8L500.8 254L502.3 253.2L503.8 252.5L505.3 251.7L506.8 250.9L508.3 250.1L509.8 249.4L511.3 248.6L512.8 247.8L514.3 247.1L515.8 246.3L517.3 245.5L518.8 244.8L520.3 244L521.8 243.2L523.3 242.5L524.8 241.7L526.3 240.9L527.8 240.2L529.3 239.4L530.8 238.7L532.3 237.9L533.8 237.1L535.3 236.4L536.8 235.6L538.3 234.9L539.8 234.2L541.3 233.4L542.8 232.7L544.3 232L545.8 231.2L547.3 230.5L548.8 229.8L550.3 229.1L551.8 228.3L553.3 227.6L554.8 226.9L556.3 226.2L557.8 225.5L559.3 224.8L560.8 224.1L562.3 223.4L563.8 222.8L565.3 222.1L566.8 221.4L568.3 220.8L569.8 220.1L571.3 219.4L572.8 218.8L574.3 218.2L575.8 217.5L577.3 216.9L578.8 216.3L580.3 215.6L581.8 215L583.3 214.4L584.8 213.8L586.3 213.2L587.8 212.7L589.3 212.1L590.8 211.5L592.3 211L593.8 210.4L595.3 209.8L596.8 209.3L598.3 208.8L599.8 208.3L601.3 207.7L602.8 207.2L604.3 206.7L605.8 206.3L607.3 205.8L608.8 205.3L610.3 204.8L611.8 204.4L613.4 203.9L614.9 203.5L616.4 203.1L617.9 202.7L619.4 202.3L620.9 201.9L622.4 201.5L623.9 201.1L625.4 200.8L626.9 200.4L628.4 200.1L629.9 199.7L631.4 199.4L632.9 199.1L634.4 198.8L635.9 198.5L637.4 198.2L638.9 197.9L640.4 197.7L641.9 197.4L643.4 197.2L644.9 197L646.4 196.7L647.9 196.5L649.4 196.3L650.9 196.1L652.4 195.9L653.9 195.7L655.4 195.6L656.9 195.4L658.4 195.2L659.9 195.1L661.4 194.9L662.9 194.8L664.4 194.7L665.9 194.5L667.4 194.4L668.9 194.3L670.4 194.2L671.9 194.1L673.4 194L674.9 194L676.4 193.9L677.9 193.8L679.4 193.8L680.9 193.7L682.4 193.6L683.9 193.6L685.4 193.6L686.9 193.5L688.4 193.5L689.9 193.5L691.4 193.4L692.9 193.4L694.4 193.4L695.9 193.4L697.4 193.4L698.9 193.4L700.4 193.4L701.9 193.4L703.4 193.4L704.9 193.5L706.4 193.5L707.9 193.5L709.4 193.5L710.9 193.6L712.4 193.6L713.9 193.6L715.4 193.7L716.9 193.7L718.4 193.7L719.9 193.8L721.4 193.8L722.9 193.9L724.4 193.9L725.9 194L727.4 194L728.9 194.1L730.4 194.2L731.9 194.2L733.4 194.3L734.9 194.3L736.4 194.4L737.9 194.5L739.4 194.5L740.9 194.6L742.4 194.6" fill="none" stroke="#ff0000" stroke-width="3" stroke-linecap="square" stroke-linejoin="round"/>
<path d="M485.8 238.7L487.3 238L488.8 237.3L490.3 236.5L491.8 235.8L493.3 235.1L494.8 234.4L496.3 233.7L497.8 232.9L499.3 232.2L500.8 231.5L502.3 230.7L503.8 230L505.3 229.3L506.8 228.6L508.3 227.8L509.8 227.1L511.3 226.4L512.8 225.7L514.3 224.9L515.8 224.2L517.3 223.5L518.8 222.8L520.3 222.1L521.8 221.4L523.3 220.7L524.8 219.9L526.3 219.2L527.8 218.5L529.3 217.8L530.8 217.2L532.3 216.5L533.8 215.8L535.3 215.1L536.8 214.4L538.3 213.8L539.8 213.1L541.3 212.4L542.8 211.8L544.3 211.1L545.8 210.5L547.3 209.8L548.8 209.2L550.3 208.6L551.8 208L553.3 207.4L554.8 206.8L556.3 206.2L557.8 205.6L559.3 205L560.8 204.4L562.3 203.9L563.8 203.3L565.3 202.8L566.8 202.2L568.3 201.7L569.8 201.2L571.3 200.7L572.8 200.2L574.3 199.7L575.8 199.2L577.3 198.7L578.8 198.3L580.3 197.8L581.8 197.4L583.3 197L584.8 196.5L586.3 196.1L587.8 195.8L589.3 195.4L590.8 195L592.3 194.7L593.8 194.3L595.3 194L596.8 193.7L598.3 193.4L599.8 193.1L601.3 192.8L602.8 192.6L604.3 192.3L605.8 192.1L607.3 191.9L608.8 191.7L610.3 191.5L611.8 191.3L613.3 191.1L614.9 191L616.4 190.8L617.9 190.7L619.4 190.6L620.9 190.5L622.4 190.4L623.9 190.3L625.4 190.2L626.9 190.1L628.4 190.1L629.9 190L631.4 189.9L632.9 189.9L634.4 189.8L635.9 189.8L637.4 189.8L638.9 189.8L640.4 189.7L641.9 189.7L643.4 189.7L644.9 189.7L646.4 189.7L647.9 189.7L649.4 189.7L650.9 189.7L652.4 189.7L653.9 189.7L655.4 189.7L656.9 189.7L658.4 189.7L659.9 189.7L661.4 189.7L662.9 189.7L664.4 189.7L665.9 189.7L667.4 189.7L668.9 189.7L670.4 189.7L671.9 189.7L673.4 189.7L674.9 189.7L676.4 189.7L677.9 189.7L679.4 189.7L680.9 189.7L682.4 189.7L683.9 189.7L685.4 189.7L686.9 189.7L688.4 189.7L689.9 189.7L691.4 189.6L692.9 189.6L694.4 189.6L695.9 189.6L697.4 189.6L698.9 189.6L700.4 189.6L701.9 189.6L703.4 189.6L704.9 189.5L706.4 189.5L707.9 189.5L709.4 189.5L710.9 189.5L712.4 189.5L713.9 189.5L715.4 189.5L716.9 189.5L718.4 189.4L719.9 189.4L721.4 189.4L722.9 189.4L724.4 189.4L725.9 189.4L727.4 189.4L728.9 189.4L730.4 189.4L731.9 189.3L733.4 189.3L734.9 189.3L736.4 189.3L737.9 189.3L739.4 189.3L740.9 189.3L742.4 189.3" fill="none" stroke="#0000ff" stroke-width="3" stroke-dasharray="5.8 5.6 16.7 5.6" stroke-linejoin="round"/>
<path d="M485.8 257.1L487.3 256.3L488.8 255.5L490.3 254.8L491.8 254L493.3 253.2L494.8 252.4L496.3 251.7L497.8 250.9L499.3 250.1L500.8 249.4L502.3 248.6L503.8 247.9L505.3 247.1L506.8 246.3L508.3 245.6L509.8 244.8L511.3 244.1L512.8 243.3L514.3 242.6L515.8 241.9L517.3 241.1L518.8 240.4L520.3 239.7L521.8 238.9L523.3 238.2L524.8 237.5L526.3 236.8L527.8 236.1L529.3 235.4L530.8 234.7L532.3 234L533.8 233.3L535.3 232.7L536.8 232L538.3 231.3L539.8 230.7L541.3 230L542.8 229.4L544.3 228.8L545.8 228.1L547.3 227.5L548.8 226.9L550.3 226.3L551.8 225.7L553.3 225.1L554.8 224.6L556.3 224L557.8 223.4L559.3 222.9L560.8 222.3L562.3 221.8L563.8 221.3L565.3 220.8L566.8 220.2L568.3 219.7L569.8 219.3L571.3 218.8L572.8 218.3L574.3 217.8L575.8 217.4L577.3 216.9L578.8 216.5L580.3 216L581.8 215.6L583.3 215.2L584.8 214.8L586.3 214.4L587.8 214L589.3 213.6L590.8 213.3L592.3 212.9L593.8 212.6L595.3 212.2L596.8 211.9L598.3 211.6L599.8 211.2L601.3 210.9L602.8 210.6L604.3 210.3L605.8 210.1L607.3 209.8L608.8 209.5L610.3 209.3L611.8 209L613.3 208.8L614.9 208.6L616.4 208.4L617.9 208.2L619.4 208L620.9 207.8L622.4 207.6L623.9 207.5L625.4 207.3L626.9 207.1L628.4 207L629.9 206.9L631.4 206.7L632.9 206.6L634.4 206.5L635.9 206.4L637.4 206.3L638.9 206.2L640.4 206.1L641.9 206L643.4 206L644.9 205.9L646.4 205.8L647.9 205.8L649.4 205.7L650.9 205.7L652.4 205.6L653.9 205.6L655.4 205.6L656.9 205.5L658.4 205.5L659.9 205.5L661.4 205.5L662.9 205.5L664.4 205.5L665.9 205.5L667.4 205.5L668.9 205.5L670.4 205.5L671.9 205.5L673.4 205.5L674.9 205.5L676.4 205.5L677.9 205.5L679.4 205.5L680.9 205.5L682.4 205.6L683.9 205.6L685.4 205.6L686.9 205.6L688.4 205.7L689.9 205.7L691.4 205.7L692.9 205.7L694.4 205.7L695.9 205.8L697.4 205.8L698.9 205.8L700.4 205.8L701.9 205.8L703.4 205.9L704.9 205.9L706.4 205.9L707.9 205.9L709.4 205.9L710.9 205.9L712.4 205.9L713.9 205.9L715.4 205.9L716.9 205.9L718.4 205.9L719.9 205.9L721.4 205.9L722.9 205.9L724.4 205.9L725.9 205.8L727.4 205.8L728.9 205.8L730.4 205.7L731.9 205.7L733.4 205.6L734.9 205.6L736.4 205.5L737.9 205.4L739.4 205.4L740.9 205.3L742.4 205.2" fill="none" stroke="#ffa500" stroke-width="3" stroke-dasharray="5.8 5.6" stroke-linejoin="round"/>
<path d="M485.8 246.2L487.3 245.4L488.8 244.6L490.3 243.8L491.8 243.1L493.3 242.3L494.8 241.5L496.3 240.8L497.8 240L499.3 239.2L500.8 238.5L502.3 237.7L503.8 237L505.3 236.2L506.8 235.5L508.3 234.8L509.8 234L511.3 233.3L512.8 232.6L514.3 231.9L515.8 231.2L517.3 230.5L518.8 229.8L520.3 229.1L521.8 228.4L523.3 227.7L524.8 227L526.3 226.4L527.8 225.7L529.3 225.1L530.8 224.4L532.3 223.8L533.8 223.1L535.3 222.5L536.8 221.9L538.3 221.3L539.8 220.7L541.3 220.1L542.8 219.5L544.3 218.9L545.8 218.3L547.3 217.8L548.8 217.2L550.3 216.7L551.8 216.1L553.3 215.6L554.8 215.1L556.3 214.5L557.8 214L559.3 213.5L560.8 213.1L562.3 212.6L563.8 212.1L565.3 211.6L566.8 211.2L568.3 210.7L569.8 210.3L571.3 209.9L572.8 209.4L574.3 209L575.8 208.6L577.3 208.2L578.8 207.8L580.3 207.5L581.8 207.1L583.3 206.7L584.8 206.4L586.3 206L587.8 205.7L589.3 205.3L590.8 205L592.3 204.7L593.8 204.4L595.3 204.1L596.8 203.8L598.3 203.5L599.8 203.3L601.3 203L602.8 202.7L604.3 202.5L605.8 202.2L607.3 202L608.8 201.8L610.3 201.6L611.8 201.4L613.3 201.2L614.9 201L616.4 200.8L617.9 200.6L619.4 200.5L620.9 200.3L622.4 200.2L623.9 200L625.4 199.9L626.9 199.7L628.4 199.6L629.9 199.5L631.4 199.4L632.9 199.3L634.4 199.2L635.9 199.1L637.4 199L638.9 199L640.4 198.9L641.9 198.8L643.4 198.8L644.9 198.7L646.4 198.6L647.9 198.6L649.4 198.6L650.9 198.5L652.4 198.5L653.9 198.5L655.4 198.4L656.9 198.4L658.4 198.4L659.9 198.4L661.4 198.4L662.9 198.4L664.4 198.4L665.9 198.4L667.4 198.4L668.9 198.4L670.4 198.4L671.9 198.4L673.4 198.4L674.9 198.4L676.4 198.4L677.9 198.4L679.4 198.4L680.9 198.5L682.4 198.5L683.9 198.5L685.4 198.5L686.9 198.6L688.4 198.6L689.9 198.6L691.4 198.6L692.9 198.6L694.4 198.7L695.9 198.7L697.4 198.7L698.9 198.7L700.4 198.8L701.9 198.8L703.4 198.8L704.9 198.8L706.4 198.8L707.9 198.8L709.4 198.9L710.9 198.9L712.4 198.9L713.9 198.9L715.4 198.9L716.9 198.9L718.4 198.9L719.9 198.9L721.4 198.9L722.9 198.9L724.4 198.8L725.9 198.8L727.4 198.8L728.9 198.8L730.4 198.8L731.9 198.7L733.4 198.7L734.9 198.6L736.4 198.6L737.9 198.5L739.4 198.5L740.9 198.4L742.4 198.4" fill="none" stroke="#008b00" stroke-width="3" stroke-dasharray="5.8 5.6" stroke-linejoin="round"/>
</g>
<g clip-path="url(#clipf)">
<path d="M442.9 437.6L546.5 437.4L550 429.8L552.2 416.2L554 398L554.7 387.5L559 386.2L564.7 386.2L567 384.4L570.4 378.8L577.2 373.1L584 368.5L590.8 366.3L597 367.2L603.6 372L610.4 382.2L617.2 395.8L624 406L630.8 412.8L636.5 416.6L642.2 418.4L645.6 425.2L648.5 434.3L651.2 437.6L742.4 437.6" fill="none" stroke="#ff0000" stroke-width="3" stroke-linecap="square" stroke-linejoin="round"/>
<path d="M442.9 437.6C456.6 437.6 509.8 437.8 525 437.4C540.2 437 531.9 436.7 534 435.4C536.1 434.1 536.4 432.1 537.5 429.8C538.6 427.5 539.6 424.5 540.9 421.8C542.2 419.1 543.5 416.2 545.4 413.9C547.3 411.6 549.9 410.3 552.2 408.2C554.5 406.1 556.7 403.8 559 401.4C561.3 398.9 563.5 396.1 565.8 393.5C568.1 390.9 570.3 388.1 572.6 385.6C574.9 383.2 577.1 380.9 579.4 378.8C581.7 376.7 584.1 374.6 586.2 373.1C588.3 371.6 590.2 370.6 592 370C593.8 369.4 594.9 369.2 596.8 369.7C598.7 370.2 601.3 371.4 603.6 373.1C605.9 374.8 608.1 376.9 610.4 379.9C612.7 382.9 614.9 387.4 617.2 391.2C619.5 395 621.7 399.2 624 402.6C626.3 406 628.5 408.8 630.8 411.6C633.1 414.4 635.3 417.1 637.6 419.6C639.9 422.1 641.8 424.4 644.4 426.4C647 428.4 650.5 430.3 653.5 431.6C656.5 432.9 659.6 433.6 662.6 434.3C665.6 435.1 667.8 435.6 671.6 436.1C675.4 436.6 673.4 437.1 685.2 437.3C697 437.6 732.9 437.6 742.4 437.6" fill="none" stroke="#0000ff" stroke-width="3" stroke-dasharray="5.8 5.6 16.7 5.6" stroke-linejoin="round"/>
<path d="M442.9 437.6C461.1 437.6 533.4 438.9 552.2 437.6C571 436.3 554.7 433.4 555.6 429.8C556.5 426.2 557.3 420 557.9 416.2C558.5 412.4 558.4 412 559 407.1C559.6 402.2 560.5 391.1 561.3 386.7C562 382.3 562.5 382.3 563.5 381C564.5 379.7 565.5 379.6 567 378.8C568.5 378.1 570.5 378.2 572.6 376.5C574.7 374.8 577.1 372.1 579.4 368.5C581.7 364.9 583.9 358.7 586.2 354.9C588.5 351.1 591 348.3 593 345.9C595 343.5 596.1 340.9 597.9 340.7C599.7 340.5 601.9 341.9 603.6 344.7C605.3 347.4 606.6 352.1 608.1 357.2C609.6 362.3 611.2 369.5 612.7 375.4C614.2 381.3 615.7 386.9 617.2 392.4C618.7 397.9 620.2 403.5 621.7 408.2C623.2 412.9 624.8 417.1 626.3 420.7C627.8 424.3 628.9 427.4 630.8 429.8C632.7 432.2 635 433.7 637.6 434.8C640.2 435.9 643.3 436.2 646.7 436.6C650.1 437 642 437.1 658 437.3C674 437.5 728.3 437.6 742.4 437.6" fill="none" stroke="#ffa500" stroke-width="3" stroke-dasharray="5.8 5.6" stroke-linejoin="round"/>
<path d="M442.9 437.6C459.4 437.5 524.7 437.5 542 436.8C559.3 436.1 545.4 435.1 546.5 433.2C547.6 431.3 548 428.4 548.8 425.2C549.6 422 550.1 417.3 551.1 413.9C552.1 410.5 552.8 407.4 554.5 404.8C556.2 402.2 559 400.4 561.3 398C563.6 395.6 565.8 392.9 568.1 390.1C570.4 387.3 572.6 384.4 574.9 381C577.2 377.6 579.4 373.7 581.7 369.7C584 365.7 586.6 360.6 588.5 357.2C590.4 353.8 591.6 351.5 593 349.5C594.4 347.5 595 345.6 596.8 345.2C598.6 344.8 601.7 345 603.6 347C605.5 349 606.6 352.8 608.1 357.2C609.6 361.6 611.2 367.4 612.7 373.1C614.2 378.8 615.7 385.5 617.2 391.2C618.7 396.9 620.2 402.4 621.7 407.1C623.2 411.8 624.4 416 626.3 419.6C628.2 423.2 630.8 426.5 633.1 428.6C635.4 430.7 637.2 431.5 639.9 432C642.5 432.5 646 431.3 649 431.6C652 431.9 655 433.3 658 433.9C661 434.5 664.1 434.9 667.1 435.4C670.1 435.8 663.7 436.2 676.2 436.6C688.8 437 731.4 437.4 742.4 437.6" fill="none" stroke="#008b00" stroke-width="3" stroke-dasharray="5.8 5.6" stroke-linejoin="round"/>
</g>
<defs>
<clipPath id="clipa"><rect x="61" y="11.6" width="303.4" height="121.8"/></clipPath>
<clipPath id="clipb"><rect x="61" y="147.1" width="303.4" height="121.8"/></clipPath>
<clipPath id="clipc"><rect x="61" y="318.2" width="303.4" height="121.6"/></clipPath>
<clipPath id="clipd"><rect x="441" y="11.6" width="303.4" height="121.8"/></clipPath>
<clipPath id="clipe"><rect x="441" y="147.1" width="303.4" height="121.8"/></clipPath>
<clipPath id="clipf"><rect x="441" y="318.2" width="303.4" height="121.6"/></clipPath>
</defs>
<rect x="63" y="13.6" width="299.4" height="117.8" fill="none" stroke="#000" stroke-width="1.4"/>
<path d="M81.03 131.4v-5M81.03 13.6v5M91.57 131.4v-5M91.57 13.6v5M99.05 131.4v-5M99.05 13.6v5M104.85 131.4v-5M104.85 13.6v5M109.6 131.4v-5M109.6 13.6v5M113.6 131.4v-5M113.6 13.6v5M117.08 131.4v-5M117.08 13.6v5M120.14 131.4v-5M120.14 13.6v5M122.88 131.4v-9M122.88 13.6v9M140.91 131.4v-5M140.91 13.6v5M151.45 131.4v-5M151.45 13.6v5M158.93 131.4v-5M158.93 13.6v5M164.73 131.4v-5M164.73 13.6v5M169.48 131.4v-5M169.48 13.6v5M173.48 131.4v-5M173.48 13.6v5M176.96 131.4v-5M176.96 13.6v5M180.02 131.4v-5M180.02 13.6v5M182.76 131.4v-9M182.76 13.6v9M200.79 131.4v-5M200.79 13.6v5M211.33 131.4v-5M211.33 13.6v5M218.81 131.4v-5M218.81 13.6v5M224.61 131.4v-5M224.61 13.6v5M229.36 131.4v-5M229.36 13.6v5M233.36 131.4v-5M233.36 13.6v5M236.84 131.4v-5M236.84 13.6v5M239.9 131.4v-5M239.9 13.6v5M242.64 131.4v-9M242.64 13.6v9M260.67 131.4v-5M260.67 13.6v5M271.21 131.4v-5M271.21 13.6v5M278.69 131.4v-5M278.69 13.6v5M284.49 131.4v-5M284.49 13.6v5M289.24 131.4v-5M289.24 13.6v5M293.24 131.4v-5M293.24 13.6v5M296.72 131.4v-5M296.72 13.6v5M299.78 131.4v-5M299.78 13.6v5M302.52 131.4v-9M302.52 13.6v9M320.55 131.4v-5M320.55 13.6v5M331.09 131.4v-5M331.09 13.6v5M338.57 131.4v-5M338.57 13.6v5M344.37 131.4v-5M344.37 13.6v5M349.12 131.4v-5M349.12 13.6v5M353.12 131.4v-5M353.12 13.6v5M356.6 131.4v-5M356.6 13.6v5M359.66 131.4v-5M359.66 13.6v5" stroke="#000" stroke-width="1.4" fill="none"/>
<rect x="63" y="149.1" width="299.4" height="117.8" fill="none" stroke="#000" stroke-width="1.4"/>
<path d="M81.03 266.9v-5M81.03 149.1v5M91.57 266.9v-5M91.57 149.1v5M99.05 266.9v-5M99.05 149.1v5M104.85 266.9v-5M104.85 149.1v5M109.6 266.9v-5M109.6 149.1v5M113.6 266.9v-5M113.6 149.1v5M117.08 266.9v-5M117.08 149.1v5M120.14 266.9v-5M120.14 149.1v5M122.88 266.9v-9M122.88 149.1v9M140.91 266.9v-5M140.91 149.1v5M151.45 266.9v-5M151.45 149.1v5M158.93 266.9v-5M158.93 149.1v5M164.73 266.9v-5M164.73 149.1v5M169.48 266.9v-5M169.48 149.1v5M173.48 266.9v-5M173.48 149.1v5M176.96 266.9v-5M176.96 149.1v5M180.02 266.9v-5M180.02 149.1v5M182.76 266.9v-9M182.76 149.1v9M200.79 266.9v-5M200.79 149.1v5M211.33 266.9v-5M211.33 149.1v5M218.81 266.9v-5M218.81 149.1v5M224.61 266.9v-5M224.61 149.1v5M229.36 266.9v-5M229.36 149.1v5M233.36 266.9v-5M233.36 149.1v5M236.84 266.9v-5M236.84 149.1v5M239.9 266.9v-5M239.9 149.1v5M242.64 266.9v-9M242.64 149.1v9M260.67 266.9v-5M260.67 149.1v5M271.21 266.9v-5M271.21 149.1v5M278.69 266.9v-5M278.69 149.1v5M284.49 266.9v-5M284.49 149.1v5M289.24 266.9v-5M289.24 149.1v5M293.24 266.9v-5M293.24 149.1v5M296.72 266.9v-5M296.72 149.1v5M299.78 266.9v-5M299.78 149.1v5M302.52 266.9v-9M302.52 149.1v9M320.55 266.9v-5M320.55 149.1v5M331.09 266.9v-5M331.09 149.1v5M338.57 266.9v-5M338.57 149.1v5M344.37 266.9v-5M344.37 149.1v5M349.12 266.9v-5M349.12 149.1v5M353.12 266.9v-5M353.12 149.1v5M356.6 266.9v-5M356.6 149.1v5M359.66 266.9v-5M359.66 149.1v5" stroke="#000" stroke-width="1.4" fill="none"/>
<rect x="443" y="13.6" width="299.4" height="117.8" fill="none" stroke="#000" stroke-width="1.4"/>
<path d="M461.03 131.4v-5M461.03 13.6v5M471.57 131.4v-5M471.57 13.6v5M479.05 131.4v-5M479.05 13.6v5M484.85 131.4v-5M484.85 13.6v5M489.6 131.4v-5M489.6 13.6v5M493.6 131.4v-5M493.6 13.6v5M497.08 131.4v-5M497.08 13.6v5M500.14 131.4v-5M500.14 13.6v5M502.88 131.4v-9M502.88 13.6v9M520.91 131.4v-5M520.91 13.6v5M531.45 131.4v-5M531.45 13.6v5M538.93 131.4v-5M538.93 13.6v5M544.73 131.4v-5M544.73 13.6v5M549.48 131.4v-5M549.48 13.6v5M553.48 131.4v-5M553.48 13.6v5M556.96 131.4v-5M556.96 13.6v5M560.02 131.4v-5M560.02 13.6v5M562.76 131.4v-9M562.76 13.6v9M580.79 131.4v-5M580.79 13.6v5M591.33 131.4v-5M591.33 13.6v5M598.81 131.4v-5M598.81 13.6v5M604.61 131.4v-5M604.61 13.6v5M609.36 131.4v-5M609.36 13.6v5M613.36 131.4v-5M613.36 13.6v5M616.84 131.4v-5M616.84 13.6v5M619.9 131.4v-5M619.9 13.6v5M622.64 131.4v-9M622.64 13.6v9M640.67 131.4v-5M640.67 13.6v5M651.21 131.4v-5M651.21 13.6v5M658.69 131.4v-5M658.69 13.6v5M664.49 131.4v-5M664.49 13.6v5M669.24 131.4v-5M669.24 13.6v5M673.24 131.4v-5M673.24 13.6v5M676.72 131.4v-5M676.72 13.6v5M679.78 131.4v-5M679.78 13.6v5M682.52 131.4v-9M682.52 13.6v9M700.55 131.4v-5M700.55 13.6v5M711.09 131.4v-5M711.09 13.6v5M718.57 131.4v-5M718.57 13.6v5M724.37 131.4v-5M724.37 13.6v5M729.12 131.4v-5M729.12 13.6v5M733.12 131.4v-5M733.12 13.6v5M736.6 131.4v-5M736.6 13.6v5M739.66 131.4v-5M739.66 13.6v5" stroke="#000" stroke-width="1.4" fill="none"/>
<rect x="443" y="149.1" width="299.4" height="117.8" fill="none" stroke="#000" stroke-width="1.4"/>
<path d="M461.03 266.9v-5M461.03 149.1v5M471.57 266.9v-5M471.57 149.1v5M479.05 266.9v-5M479.05 149.1v5M484.85 266.9v-5M484.85 149.1v5M489.6 266.9v-5M489.6 149.1v5M493.6 266.9v-5M493.6 149.1v5M497.08 266.9v-5M497.08 149.1v5M500.14 266.9v-5M500.14 149.1v5M502.88 266.9v-9M502.88 149.1v9M520.91 266.9v-5M520.91 149.1v5M531.45 266.9v-5M531.45 149.1v5M538.93 266.9v-5M538.93 149.1v5M544.73 266.9v-5M544.73 149.1v5M549.48 266.9v-5M549.48 149.1v5M553.48 266.9v-5M553.48 149.1v5M556.96 266.9v-5M556.96 149.1v5M560.02 266.9v-5M560.02 149.1v5M562.76 266.9v-9M562.76 149.1v9M580.79 266.9v-5M580.79 149.1v5M591.33 266.9v-5M591.33 149.1v5M598.81 266.9v-5M598.81 149.1v5M604.61 266.9v-5M604.61 149.1v5M609.36 266.9v-5M609.36 149.1v5M613.36 266.9v-5M613.36 149.1v5M616.84 266.9v-5M616.84 149.1v5M619.9 266.9v-5M619.9 149.1v5M622.64 266.9v-9M622.64 149.1v9M640.67 266.9v-5M640.67 149.1v5M651.21 266.9v-5M651.21 149.1v5M658.69 266.9v-5M658.69 149.1v5M664.49 266.9v-5M664.49 149.1v5M669.24 266.9v-5M669.24 149.1v5M673.24 266.9v-5M673.24 149.1v5M676.72 266.9v-5M676.72 149.1v5M679.78 266.9v-5M679.78 149.1v5M682.52 266.9v-9M682.52 149.1v9M700.55 266.9v-5M700.55 149.1v5M711.09 266.9v-5M711.09 149.1v5M718.57 266.9v-5M718.57 149.1v5M724.37 266.9v-5M724.37 149.1v5M729.12 266.9v-5M729.12 149.1v5M733.12 266.9v-5M733.12 149.1v5M736.6 266.9v-5M736.6 149.1v5M739.66 266.9v-5M739.66 149.1v5" stroke="#000" stroke-width="1.4" fill="none"/>
<rect x="63" y="320.2" width="299.4" height="117.6" fill="none" stroke="#000" stroke-width="1.4"/>
<path d="M112.9 437.8v-9M112.9 320.2v9M162.8 437.8v-9M162.8 320.2v9M212.7 437.8v-9M212.7 320.2v9M262.6 437.8v-9M262.6 320.2v9M312.5 437.8v-9M312.5 320.2v9M87.95 437.8v-5M87.95 320.2v5M137.85 437.8v-5M137.85 320.2v5M187.75 437.8v-5M187.75 320.2v5M237.65 437.8v-5M237.65 320.2v5M287.55 437.8v-5M287.55 320.2v5M337.45 437.8v-5M337.45 320.2v5" stroke="#000" stroke-width="1.4" fill="none"/>
<path d="M63 390.76h9M362.4 390.76h-9M63 343.72h9M362.4 343.72h-9" stroke="#000" stroke-width="1.4" fill="none"/>
<rect x="443" y="320.2" width="299.4" height="117.6" fill="none" stroke="#000" stroke-width="1.4"/>
<path d="M492.9 437.8v-9M492.9 320.2v9M542.8 437.8v-9M542.8 320.2v9M592.7 437.8v-9M592.7 320.2v9M642.6 437.8v-9M642.6 320.2v9M692.5 437.8v-9M692.5 320.2v9M467.95 437.8v-5M467.95 320.2v5M517.85 437.8v-5M517.85 320.2v5M567.75 437.8v-5M567.75 320.2v5M617.65 437.8v-5M617.65 320.2v5M667.55 437.8v-5M667.55 320.2v5M717.45 437.8v-5M717.45 320.2v5" stroke="#000" stroke-width="1.4" fill="none"/>
<path d="M443 390.76h9M742.4 390.76h-9M443 343.72h9M742.4 343.72h-9" stroke="#000" stroke-width="1.4" fill="none"/>
<path d="M63 114.57h9M362.4 114.57h-9M63 109.51h5M362.4 109.51h-5M63 106.54h5M362.4 106.54h-5M63 104.44h5M362.4 104.44h-5M63 102.81h5M362.4 102.81h-5M63 101.48h5M362.4 101.48h-5M63 100.35h5M362.4 100.35h-5M63 99.37h5M362.4 99.37h-5M63 98.51h5M362.4 98.51h-5M63 97.74h5M362.4 97.74h-5M63 80.91h9M362.4 80.91h-9M63 75.85h5M362.4 75.85h-5M63 72.89h5M362.4 72.89h-5M63 70.78h5M362.4 70.78h-5M63 69.15h5M362.4 69.15h-5M63 67.82h5M362.4 67.82h-5M63 66.69h5M362.4 66.69h-5M63 65.72h5M362.4 65.72h-5M63 64.86h5M362.4 64.86h-5M63 64.09h5M362.4 64.09h-5M63 47.26h9M362.4 47.26h-9M63 42.19h5M362.4 42.19h-5M63 39.23h5M362.4 39.23h-5M63 37.13h5M362.4 37.13h-5M63 35.49h5M362.4 35.49h-5M63 34.16h5M362.4 34.16h-5M63 33.04h5M362.4 33.04h-5M63 32.06h5M362.4 32.06h-5M63 31.2h5M362.4 31.2h-5M63 30.43h5M362.4 30.43h-5" stroke="#000" stroke-width="1.4" fill="none"/>
<path d="M443 126.97h5M742.4 126.97h-5M443 124.37h5M742.4 124.37h-5M443 122.53h5M742.4 122.53h-5M443 121.11h5M742.4 121.11h-5M443 119.94h5M742.4 119.94h-5M443 118.96h5M742.4 118.96h-5M443 118.1h5M742.4 118.1h-5M443 117.35h5M742.4 117.35h-5M443 116.68h5M742.4 116.68h-5M443 101.95h9M742.4 101.95h-9M443 97.52h5M742.4 97.52h-5M443 94.92h5M742.4 94.92h-5M443 93.08h5M742.4 93.08h-5M443 91.66h5M742.4 91.66h-5M443 90.49h5M742.4 90.49h-5M443 89.51h5M742.4 89.51h-5M443 88.65h5M742.4 88.65h-5M443 87.9h5M742.4 87.9h-5M443 87.22h5M742.4 87.22h-5M443 72.5h9M742.4 72.5h-9M443 68.07h5M742.4 68.07h-5M443 65.47h5M742.4 65.47h-5M443 63.63h5M742.4 63.63h-5M443 62.21h5M742.4 62.21h-5M443 61.04h5M742.4 61.04h-5M443 60.06h5M742.4 60.06h-5M443 59.2h5M742.4 59.2h-5M443 58.45h5M742.4 58.45h-5M443 57.78h5M742.4 57.78h-5M443 43.05h9M742.4 43.05h-9M443 38.62h5M742.4 38.62h-5M443 36.02h5M742.4 36.02h-5M443 34.18h5M742.4 34.18h-5M443 32.76h5M742.4 32.76h-5M443 31.59h5M742.4 31.59h-5M443 30.61h5M742.4 30.61h-5M443 29.75h5M742.4 29.75h-5M443 29h5M742.4 29h-5M443 28.32h5M742.4 28.32h-5" stroke="#000" stroke-width="1.4" fill="none"/>
<path d="M63 261.74h5M362.4 261.74h-5M63 257.86h5M362.4 257.86h-5M63 254.58h5M362.4 254.58h-5M63 251.74h5M362.4 251.74h-5M63 249.24h5M362.4 249.24h-5M63 247h9M362.4 247h-9M63 232.26h5M362.4 232.26h-5M63 223.64h5M362.4 223.64h-5M63 217.53h5M362.4 217.53h-5M63 212.79h5M362.4 212.79h-5M63 208.91h5M362.4 208.91h-5M63 205.63h5M362.4 205.63h-5M63 202.79h5M362.4 202.79h-5M63 200.29h5M362.4 200.29h-5M63 198.05h9M362.4 198.05h-9M63 183.31h5M362.4 183.31h-5M63 174.69h5M362.4 174.69h-5M63 168.58h5M362.4 168.58h-5M63 163.84h5M362.4 163.84h-5M63 159.96h5M362.4 159.96h-5M63 156.68h5M362.4 156.68h-5M63 153.84h5M362.4 153.84h-5M63 151.34h5M362.4 151.34h-5" stroke="#000" stroke-width="1.4" fill="none"/>
<path d="M443 262.04h5M742.4 262.04h-5M443 257.48h5M742.4 257.48h-5M443 253.75h5M742.4 253.75h-5M443 250.6h5M742.4 250.6h-5M443 247.86h5M742.4 247.86h-5M443 245.46h5M742.4 245.46h-5M443 243.3h9M742.4 243.3h-9M443 229.12h5M742.4 229.12h-5M443 220.83h5M742.4 220.83h-5M443 214.94h5M742.4 214.94h-5M443 210.38h5M742.4 210.38h-5M443 206.65h5M742.4 206.65h-5M443 203.5h5M742.4 203.5h-5M443 200.76h5M742.4 200.76h-5M443 198.36h5M742.4 198.36h-5M443 196.2h9M742.4 196.2h-9M443 182.02h5M742.4 182.02h-5M443 173.73h5M742.4 173.73h-5M443 167.84h5M742.4 167.84h-5M443 163.28h5M742.4 163.28h-5M443 159.55h5M742.4 159.55h-5M443 156.4h5M742.4 156.4h-5M443 153.66h5M742.4 153.66h-5M443 151.26h5M742.4 151.26h-5" stroke="#000" stroke-width="1.4" fill="none"/>
<text x="59.1" y="23.3" text-anchor="end" font-size="18" >10<tspan font-size="13" dy="-10.6">0</tspan></text>
<text x="59.1" y="56.96" text-anchor="end" font-size="18" >10<tspan font-size="13" dy="-10.6">-2</tspan></text>
<text x="59.1" y="90.61" text-anchor="end" font-size="18" >10<tspan font-size="13" dy="-10.6">-4</tspan></text>
<text x="59.1" y="124.27" text-anchor="end" font-size="18" >10<tspan font-size="13" dy="-10.6">-6</tspan></text>
<text x="439.1" y="23.3" text-anchor="end" font-size="18" >10<tspan font-size="13" dy="-10.6">0</tspan></text>
<text x="439.1" y="52.75" text-anchor="end" font-size="18" >10<tspan font-size="13" dy="-10.6">-2</tspan></text>
<text x="439.1" y="82.2" text-anchor="end" font-size="18" >10<tspan font-size="13" dy="-10.6">-4</tspan></text>
<text x="439.1" y="111.65" text-anchor="end" font-size="18" >10<tspan font-size="13" dy="-10.6">-6</tspan></text>
<text x="439.1" y="141.1" text-anchor="end" font-size="18" >10<tspan font-size="13" dy="-10.6">-8</tspan></text>
<text x="59.1" y="256.7" text-anchor="end" font-size="18" >10<tspan font-size="13" dy="-10.6">0</tspan></text>
<text x="59.1" y="207.75" text-anchor="end" font-size="18" >10<tspan font-size="13" dy="-10.6">1</tspan></text>
<text x="59.1" y="158.8" text-anchor="end" font-size="18" >10<tspan font-size="13" dy="-10.6">2</tspan></text>
<text x="64" y="290.8" text-anchor="middle" font-size="18" >10<tspan font-size="13" dy="-10.6">0</tspan></text>
<text x="123.88" y="290.8" text-anchor="middle" font-size="18" >10<tspan font-size="13" dy="-10.6">1</tspan></text>
<text x="183.76" y="290.8" text-anchor="middle" font-size="18" >10<tspan font-size="13" dy="-10.6">2</tspan></text>
<text x="243.64" y="290.8" text-anchor="middle" font-size="18" >10<tspan font-size="13" dy="-10.6">3</tspan></text>
<text x="303.52" y="290.8" text-anchor="middle" font-size="18" >10<tspan font-size="13" dy="-10.6">4</tspan></text>
<text x="363.4" y="290.8" text-anchor="middle" font-size="18" >10<tspan font-size="13" dy="-10.6">5</tspan></text>
<text x="439.1" y="253" text-anchor="end" font-size="18" >10<tspan font-size="13" dy="-10.6">0</tspan></text>
<text x="439.1" y="205.9" text-anchor="end" font-size="18" >10<tspan font-size="13" dy="-10.6">1</tspan></text>
<text x="439.1" y="158.8" text-anchor="end" font-size="18" >10<tspan font-size="13" dy="-10.6">2</tspan></text>
<text x="444" y="290.8" text-anchor="middle" font-size="18" >10<tspan font-size="13" dy="-10.6">0</tspan></text>
<text x="503.88" y="290.8" text-anchor="middle" font-size="18" >10<tspan font-size="13" dy="-10.6">1</tspan></text>
<text x="563.76" y="290.8" text-anchor="middle" font-size="18" >10<tspan font-size="13" dy="-10.6">2</tspan></text>
<text x="623.64" y="290.8" text-anchor="middle" font-size="18" >10<tspan font-size="13" dy="-10.6">3</tspan></text>
<text x="683.52" y="290.8" text-anchor="middle" font-size="18" >10<tspan font-size="13" dy="-10.6">4</tspan></text>
<text x="743.4" y="290.8" text-anchor="middle" font-size="18" >10<tspan font-size="13" dy="-10.6">5</tspan></text>
<text x="63" y="454.8" text-anchor="middle" font-size="18">-15</text>
<text x="112.9" y="454.8" text-anchor="middle" font-size="18">-10</text>
<text x="162.8" y="454.8" text-anchor="middle" font-size="18">-5</text>
<text x="212.7" y="454.8" text-anchor="middle" font-size="18">0</text>
<text x="262.6" y="454.8" text-anchor="middle" font-size="18">5</text>
<text x="312.5" y="454.8" text-anchor="middle" font-size="18">10</text>
<text x="362.4" y="454.8" text-anchor="middle" font-size="18">15</text>
<text x="59.1" y="444.1" text-anchor="end" font-size="18">0.0</text>
<text x="59.1" y="397.06" text-anchor="end" font-size="18">0.1</text>
<text x="59.1" y="350.02" text-anchor="end" font-size="18">0.2</text>
<text x="443" y="454.8" text-anchor="middle" font-size="18">-15</text>
<text x="492.9" y="454.8" text-anchor="middle" font-size="18">-10</text>
<text x="542.8" y="454.8" text-anchor="middle" font-size="18">-5</text>
<text x="592.7" y="454.8" text-anchor="middle" font-size="18">0</text>
<text x="642.6" y="454.8" text-anchor="middle" font-size="18">5</text>
<text x="692.5" y="454.8" text-anchor="middle" font-size="18">10</text>
<text x="742.4" y="454.8" text-anchor="middle" font-size="18">15</text>
<text x="439.1" y="444.1" text-anchor="end" font-size="18">0.0</text>
<text x="439.1" y="397.06" text-anchor="end" font-size="18">0.1</text>
<text x="439.1" y="350.02" text-anchor="end" font-size="18">0.2</text>
<text transform="translate(17.6,71.3) rotate(-90)" text-anchor="middle" font-size="18">C<tspan font-size="13" dy="6.8">A, x</tspan><tspan dy="-6.8">(t)</tspan></text>
<text transform="translate(397.6,71.3) rotate(-90)" text-anchor="middle" font-size="18">C<tspan font-size="13" dy="6.8">A, z</tspan><tspan dy="-6.8">(t)</tspan></text>
<text transform="translate(21.8,208.5) rotate(-90)" text-anchor="middle" font-size="18">MSF<tspan font-size="13" dy="6.7">A, x</tspan><tspan dy="-6.7">(t)</tspan></text>
<text transform="translate(401.8,208.5) rotate(-90)" text-anchor="middle" font-size="18">MSF<tspan font-size="13" dy="6.7">A, z</tspan><tspan dy="-6.7">(t)</tspan></text>
<text transform="translate(25.5,378.2) rotate(-90)" text-anchor="middle" font-size="18">P(A<tspan font-size="13" dy="7">x</tspan><tspan dy="-7">)</tspan></text>
<text transform="translate(405.5,378.2) rotate(-90)" text-anchor="middle" font-size="18">P(A<tspan font-size="13" dy="7">z</tspan><tspan dy="-7">)</tspan></text>
<text x="212.7" y="307.3" text-anchor="middle" font-size="18">t (τ)</text>
<text x="592.7" y="307.3" text-anchor="middle" font-size="18">t (τ)</text>
<text x="213.7" y="471.8" text-anchor="middle" font-size="18">A<tspan font-size="13" dy="7">x</tspan><tspan dy="-7">(σ)</tspan></text>
<text x="593.7" y="471.8" text-anchor="middle" font-size="18">A<tspan font-size="13" dy="7">z</tspan><tspan dy="-7">(σ)</tspan></text>
<text x="76.6" y="37" font-size="17.5" font-weight="bold">(a)</text>
<text x="76.6" y="172.5" font-size="17.5" font-weight="bold">(b)</text>
<text x="76.6" y="343.6" font-size="17.5" font-weight="bold">(c)</text>
<text x="456.6" y="37" font-size="17.5" font-weight="bold">(d)</text>
<text x="456.6" y="172.5" font-size="17.5" font-weight="bold">(e)</text>
<text x="456.6" y="343.6" font-size="17.5" font-weight="bold">(f)</text>
<path d="M80 65.3H108.6" stroke="#ff0000" stroke-width="3"/>
<text x="116" y="70.6" font-size="15.3">AA</text>
<path d="M80 80H108.6" stroke="#0000ff" stroke-width="3" stroke-dasharray="5.8 5.6 16.7 5.6"/>
<text x="116" y="85.3" font-size="15.3">GG</text>
<path d="M80 96.4H108.6" stroke="#ffa500" stroke-width="3" stroke-dasharray="5.8 5.6"/>
<text x="116" y="101.7" font-size="15.3">AG(A)</text>
<path d="M80 114H108.6" stroke="#008b00" stroke-width="3" stroke-dasharray="5.8 5.6"/>
<text x="116" y="119.3" font-size="15.3">AG(G)</text>
</svg></body></html>
